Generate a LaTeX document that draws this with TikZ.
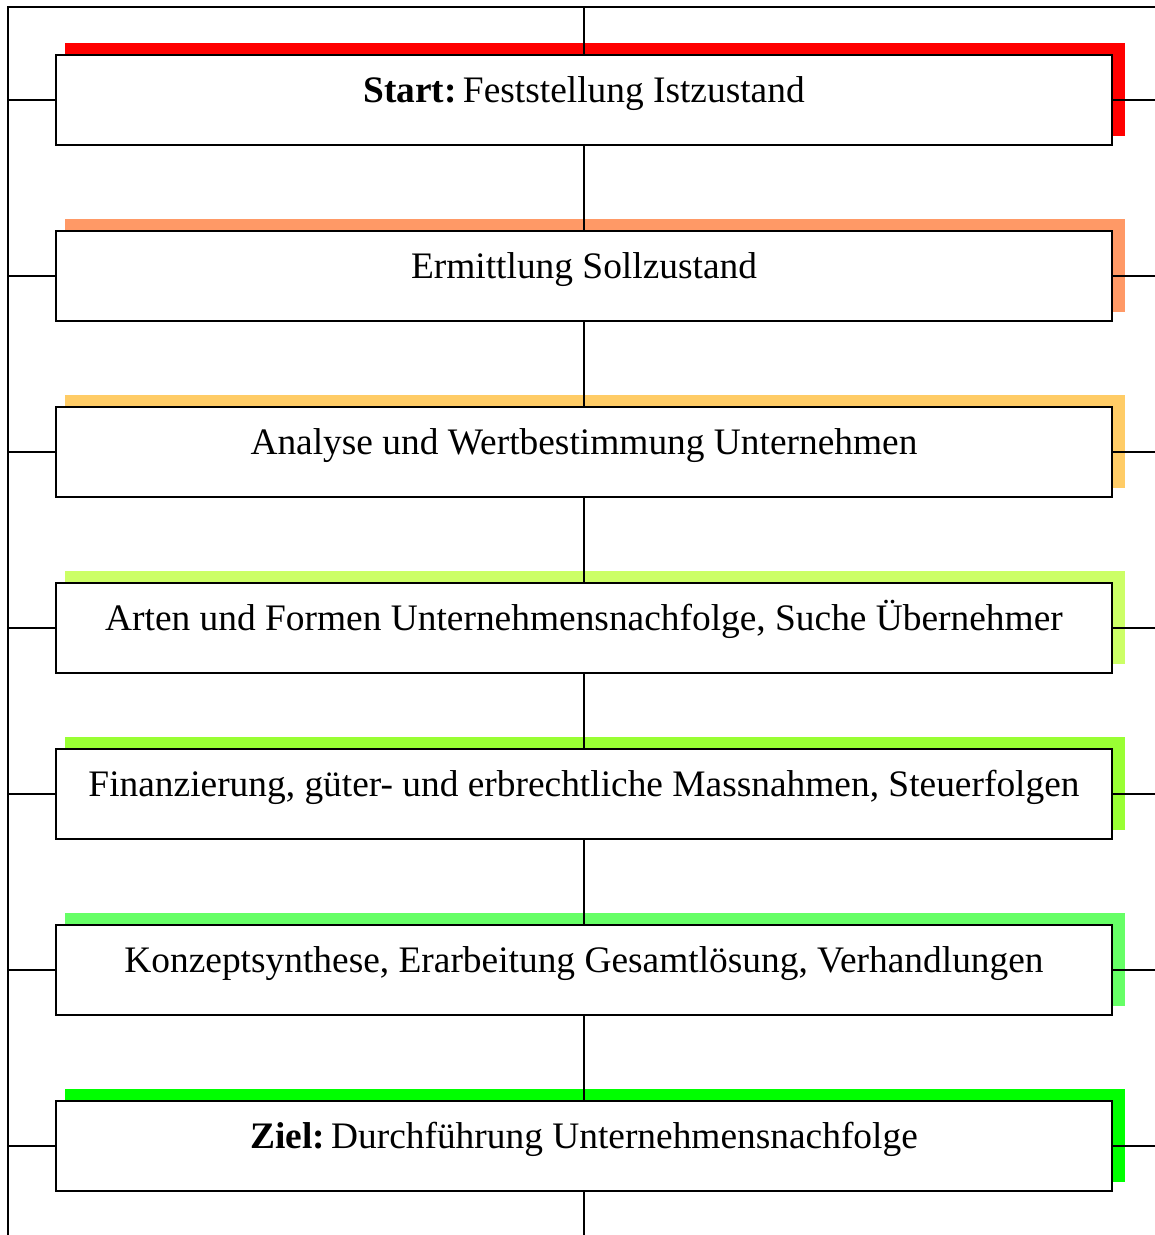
\documentclass[tikz,border=0pt]{standalone}
\usepackage{fontspec}
\setmainfont{Liberation Serif}
\usetikzlibrary{calc,backgrounds}
\definecolor{cA}{HTML}{FF0000}
\definecolor{cB}{HTML}{FF9966}
\definecolor{cC}{HTML}{FFCC66}
\definecolor{cD}{HTML}{CCFF66}
\definecolor{cE}{HTML}{99FF33}
\definecolor{cF}{HTML}{66FF66}
\definecolor{cG}{HTML}{00FF00}
\begin{document}
\begin{tikzpicture}[x=1pt,y=-1pt,
  box/.style={draw,fill=white,line width=1.8pt,minimum width=1056pt,minimum height=90pt,
    inner sep=0pt,text height=14pt,text depth=10pt,font=\fontsize{37.4}{44}\selectfont},
  ln/.style={line width=1.8pt}]
\useasboundingbox (0,0) rectangle (1155,1235);
\node[box] (b1) at (584,100) {\textbf{Start:}\,Feststellung Istzustand};
\node[box] (b2) at (584,276) {Ermittlung Sollzustand};
\node[box] (b3) at (584,452) {Analyse und Wertbestimmung Unternehmen};
\node[box] (b4) at (584,628) {Arten und Formen Unternehmensnachfolge, Suche Übernehmer};
\node[box] (b5) at (584,794) {Finanzierung, güter- und erbrechtliche Massnahmen, Steuerfolgen};
\node[box] (b6) at (584,970) {Konzeptsynthese, Erarbeitung Gesamtlösung, Verhandlungen};
\node[box] (b7) at (584,1146) {\textbf{Ziel:}\,Durchführung Unternehmensnachfolge};
\coordinate (top) at (584,7);
\coordinate (bot) at (584,1236);
\coordinate (tl) at (8,7);
\coordinate (tr) at (1156,7);
\coordinate (bl) at (8,1236);
\begin{pgfonlayer}{background}
\foreach \i/\c in {1/cA,2/cB,3/cC,4/cD,5/cE,6/cF,7/cG}
  \fill[\c] ($(b\i.north west)+(10,-11)$) rectangle ($(b\i.south east)+(12,-10)$);
\draw[ln] (tr) -- (tl) -- (bl);
\draw[ln] (top) -- (b1.north);
\foreach \i/\j in {1/2,2/3,3/4,4/5,5/6,6/7}
  \draw[ln] (b\i.south) -- (b\j.north);
\draw[ln] (b7.south) -- (bot);
\foreach \i in {1,...,7}{
  \draw[ln] (b\i.west) -- (b\i.west -| tl);
  \draw[ln] (b\i.east) -- (b\i.east -| tr);
}
\end{pgfonlayer}
\end{tikzpicture}
\end{document}
